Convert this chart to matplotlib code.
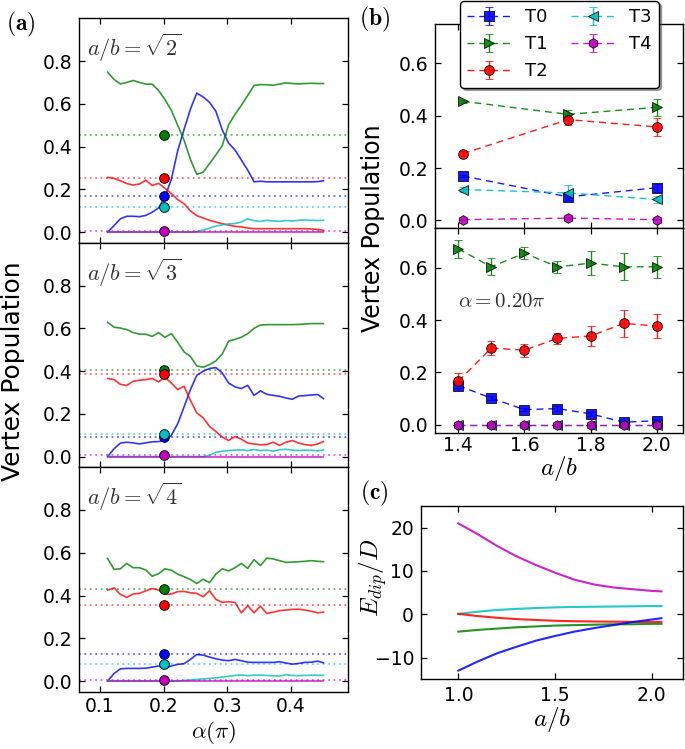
import matplotlib
matplotlib.use("Agg")
import matplotlib.pyplot as plt
import numpy as np

plt.rcParams.update({
    "font.family": ["DejaVu Sans"],
    "mathtext.fontset": "cm",
    "xtick.direction": "in",
    "ytick.direction": "in",
    "xtick.top": True,
    "ytick.right": True,
    "xtick.major.size": 4.5,
    "ytick.major.size": 4.5,
    "xtick.major.width": 0.9,
    "ytick.major.width": 0.9,
    "xtick.major.pad": 4.5,
    "ytick.major.pad": 5,
    "axes.linewidth": 1.0,
    "xtick.labelsize": 13.5,
    "ytick.labelsize": 13.5,
})

C0, C1, C2, C3, C4 = (0, 0, 1), (0, 0.5, 0), (1, 0, 0), (0, 0.75, 0.75), (0.75, 0, 0.75)
colors = [C0, C1, C2, C3, C4]
labels = ["T0", "T1", "T2", "T3", "T4"]

# ---------------- panel (a) data ----------------
alpha_pi = [0.112, 0.122, 0.132, 0.142, 0.152, 0.162, 0.172, 0.182, 0.192, 0.202,
            0.212, 0.222, 0.232, 0.242, 0.252, 0.262, 0.272, 0.282, 0.292, 0.302,
            0.312, 0.322, 0.332, 0.342, 0.352, 0.362, 0.372, 0.382, 0.392, 0.402,
            0.412, 0.422, 0.432, 0.442, 0.451]

# a/b = sqrt(2)
s2_T0 = [0.0, 0.03, 0.062, 0.074, 0.074, 0.072, 0.078, 0.093, 0.113, 0.165,
         0.246, 0.38, 0.48, 0.575, 0.650, 0.632, 0.607, 0.565, 0.478, 0.416,
         0.384, 0.337, 0.290, 0.235, 0.238, 0.235, 0.235, 0.235, 0.235, 0.235,
         0.235, 0.235, 0.235, 0.236, 0.240]
s2_T1 = [0.748, 0.714, 0.693, 0.700, 0.709, 0.700, 0.692, 0.692, 0.662, 0.620,
         0.570, 0.500, 0.430, 0.340, 0.270, 0.280, 0.320, 0.361, 0.404, 0.502,
         0.550, 0.593, 0.639, 0.686, 0.690, 0.689, 0.687, 0.692, 0.698, 0.695,
         0.693, 0.695, 0.696, 0.695, 0.695]
s2_T2 = [0.256, 0.251, 0.240, 0.227, 0.220, 0.225, 0.243, 0.218, 0.228, 0.205,
         0.180, 0.152, 0.133, 0.099, 0.077, 0.066, 0.055, 0.047, 0.039, 0.033,
         0.027, 0.024, 0.019, 0.016, 0.016, 0.016, 0.016, 0.016, 0.016, 0.016,
         0.016, 0.016, 0.015, 0.012, 0.008]
s2_T3 = [0.0, 0.0, 0.0, 0.0, 0.0, 0.0, 0.0, 0.0, 0.0, 0.0,
         0.0, 0.0, 0.0, 0.0, 0.002, 0.010, 0.018, 0.028, 0.034, 0.038,
         0.040, 0.047, 0.062, 0.053, 0.050, 0.055, 0.052, 0.050, 0.054, 0.052,
         0.055, 0.057, 0.055, 0.054, 0.055]
s2_T4 = [0.0] * 35

# a/b = sqrt(3)
s3_T0 = [0.0, 0.036, 0.063, 0.067, 0.064, 0.059, 0.064, 0.069, 0.070, 0.075,
         0.099, 0.153, 0.232, 0.313, 0.380, 0.399, 0.412, 0.416, 0.391, 0.344,
         0.326, 0.318, 0.333, 0.286, 0.307, 0.291, 0.286, 0.282, 0.274, 0.268,
         0.283, 0.285, 0.288, 0.290, 0.271]
s3_T1 = [0.628, 0.605, 0.601, 0.594, 0.580, 0.573, 0.572, 0.562, 0.580, 0.558,
         0.575, 0.535, 0.490, 0.468, 0.424, 0.418, 0.430, 0.447, 0.480, 0.540,
         0.548, 0.558, 0.575, 0.600, 0.615, 0.617, 0.617, 0.617, 0.617, 0.617,
         0.618, 0.620, 0.622, 0.622, 0.622]
s3_T2 = [0.365, 0.360, 0.338, 0.332, 0.352, 0.357, 0.360, 0.365, 0.349, 0.370,
         0.344, 0.313, 0.329, 0.263, 0.204, 0.182, 0.141, 0.117, 0.091, 0.075,
         0.094, 0.081, 0.063, 0.059, 0.055, 0.056, 0.067, 0.052, 0.067, 0.075,
         0.063, 0.056, 0.052, 0.059, 0.070]
s3_T3 = [0.0, 0.0, 0.0, 0.0, 0.0, 0.0, 0.0, 0.0, 0.0, 0.0,
         0.0, 0.0, 0.0, 0.0, 0.0, 0.0, 0.006, 0.020, 0.025, 0.028,
         0.030, 0.031, 0.028, 0.033, 0.028, 0.030, 0.025, 0.032, 0.034, 0.030,
         0.028, 0.030, 0.029, 0.027, 0.031]
s3_T4 = [0.0] * 35

# a/b = sqrt(4)
s4_T0 = [0.0, 0.035, 0.057, 0.059, 0.059, 0.059, 0.060, 0.065, 0.070, 0.060,
         0.070, 0.078, 0.081, 0.101, 0.124, 0.121, 0.112, 0.104, 0.098, 0.095,
         0.101, 0.095, 0.088, 0.087, 0.087, 0.087, 0.087, 0.090, 0.084, 0.079,
         0.082, 0.087, 0.088, 0.093, 0.085]
s4_T1 = [0.573, 0.522, 0.525, 0.550, 0.530, 0.530, 0.519, 0.490, 0.502, 0.525,
         0.518, 0.500, 0.488, 0.475, 0.456, 0.476, 0.460, 0.500, 0.525, 0.515,
         0.530, 0.550, 0.527, 0.568, 0.540, 0.575, 0.571, 0.563, 0.555, 0.556,
         0.558, 0.560, 0.563, 0.560, 0.558]
s4_T2 = [0.425, 0.436, 0.405, 0.391, 0.407, 0.410, 0.422, 0.433, 0.425, 0.405,
         0.407, 0.418, 0.419, 0.413, 0.410, 0.394, 0.422, 0.382, 0.368, 0.371,
         0.368, 0.319, 0.352, 0.319, 0.350, 0.316, 0.322, 0.329, 0.332, 0.335,
         0.336, 0.332, 0.326, 0.319, 0.322]
s4_T3 = [0.0, 0.0, 0.0, 0.0, 0.0, 0.0, 0.0, 0.0, 0.0, 0.0,
         0.0, 0.0, 0.003, 0.005, 0.007, 0.010, 0.012, 0.015, 0.018, 0.022,
         0.026, 0.028, 0.025, 0.027, 0.028, 0.026, 0.024, 0.023, 0.030, 0.026,
         0.025, 0.026, 0.027, 0.027, 0.027]
s4_T4 = [0.0] * 35

panel_a_titles = [r"$a/b=\sqrt{2}$", r"$a/b=\sqrt{3}$", r"$a/b=\sqrt{4}$"]

# ---------------- panel (b) data ----------------
ab_top = [1.414, 1.732, 2.0]
top_T0 = [0.170, 0.090, 0.125]
top_T1 = [0.455, 0.405, 0.432]
top_T2 = [0.255, 0.385, 0.357]
top_T3 = [0.118, 0.105, 0.080]
top_T4 = [0.003, 0.009, 0.003]
top_T0_err = [0.005, 0.012, 0.015]
top_T1_err = [0.005, 0.015, 0.032]
top_T2_err = [0.010, 0.020, 0.035]
top_T3_err = [0.010, 0.030, 0.015]
top_T4_err = [0.003, 0.005, 0.003]

ab_low = [1.4, 1.5, 1.6, 1.7, 1.8, 1.9, 2.0]
low_T0 = [0.150, 0.102, 0.058, 0.062, 0.042, 0.010, 0.016]
low_T1 = [0.672, 0.603, 0.655, 0.603, 0.617, 0.603, 0.603]
low_T2 = [0.166, 0.293, 0.285, 0.330, 0.339, 0.387, 0.377]
low_T3 = [0.0, 0.0, 0.0, 0.0, 0.0, 0.0, 0.0]
low_T4 = [0.0, 0.0, 0.0, 0.0, 0.0, 0.0, 0.0]
low_T0_err = [0.010, 0.008, 0.006, 0.008, 0.008, 0.006, 0.006]
low_T1_err = [0.035, 0.033, 0.022, 0.023, 0.046, 0.052, 0.043]
low_T2_err = [0.032, 0.028, 0.025, 0.020, 0.040, 0.050, 0.045]
low_T3_err = [0.003, 0.003, 0.003, 0.003, 0.003, 0.003, 0.003]
low_T4_err = [0.003, 0.003, 0.003, 0.003, 0.003, 0.003, 0.003]

# ---------------- panel (c) data ----------------
ab_c = [1.0, 1.1, 1.2, 1.3, 1.4, 1.5, 1.6, 1.7, 1.8, 1.9, 2.0, 2.05]
E_T0 = [-13.0, -10.9, -9.0, -7.5, -6.1, -5.0, -4.0, -3.2, -2.5, -1.8, -1.2, -0.9]
E_T1 = [-4.0, -3.6, -3.3, -3.0, -2.8, -2.6, -2.5, -2.4, -2.3, -2.3, -2.2, -2.2]
E_T2 = [0.1, -0.4, -0.8, -1.1, -1.3, -1.5, -1.6, -1.65, -1.7, -1.75, -1.75, -1.75]
E_T3 = [0.1, 0.6, 1.0, 1.25, 1.45, 1.6, 1.7, 1.75, 1.8, 1.85, 1.9, 1.9]
E_T4 = [21.0, 18.5, 15.8, 13.4, 11.4, 9.6, 8.0, 6.9, 6.2, 5.8, 5.4, 5.3]

# ---------------- figure ----------------
W, H = 685, 749
fig = plt.figure(figsize=(W / 100, H / 100), dpi=100)

def fx(px):
    return px / W

def fy(py):
    return 1 - py / H

# panel (a)
a_left, a_right = 79, 348.3
a_top, a_bot = 18.3, 691.7
ph = (a_bot - a_top) / 3
a_series = [
    [s2_T0, s2_T1, s2_T2, s2_T3, s2_T4],
    [s3_T0, s3_T1, s3_T2, s3_T3, s3_T4],
    [s4_T0, s4_T1, s4_T2, s4_T3, s4_T4],
]
dots = [
    [top_T0[0], top_T1[0], top_T2[0], top_T3[0], top_T4[0]],
    [top_T0[1], top_T1[1], top_T2[1], top_T3[1], top_T4[1]],
    [top_T0[2], top_T1[2], top_T2[2], top_T3[2], top_T4[2]],
]
axes_a = []
for i in range(3):
    t = a_top + i * ph
    ax = fig.add_axes([fx(a_left), fy(t + ph), fx(a_right - a_left), ph / H])
    for j in range(5):
        ax.axhline(dots[i][j], color=colors[j], ls=(0, (1, 2)), lw=1.3, alpha=0.6, zorder=1)
    for j in range(5):
        ax.plot(alpha_pi, a_series[i][j], color=colors[j], lw=1.2, alpha=0.8, zorder=2)
    for j in range(5):
        ax.plot([0.2], [dots[i][j]], "o", color=colors[j], mec="k", mew=0.6, ms=7, zorder=5)
    ax.set_xlim(0.067, 0.49)
    ax.set_ylim(-0.05, 1.0)
    ax.set_yticks([0.0, 0.2, 0.4, 0.6, 0.8])
    ax.set_xticks([0.1, 0.2, 0.3, 0.4])
    if i < 2:
        ax.set_xticklabels([])
    else:
        ax.tick_params(axis="x", pad=3.5)
    ax.text(0.03, 0.94, panel_a_titles[i], transform=ax.transAxes, fontsize=16,
            ha="left", va="top", color="#333333")
    axes_a.append(ax)

fig.text(fx(13), fy(371), "Vertex Population", rotation=90, fontsize=18,
         ha="center", va="center")
fig.text(fx(213.5), fy(732), r"$\alpha(\pi)$", fontsize=16.5, ha="center", va="center")
fig.text(fx(21), fy(24), r"$\mathbf{(a)}$", fontsize=17, ha="center", va="center")

# panel (b)
b_left, b_right = 435, 683.3
axb1 = fig.add_axes([fx(b_left), fy(228.3), fx(b_right - b_left), (228.3 - 24) / H])
axb2 = fig.add_axes([fx(b_left), fy(432.7), fx(b_right - b_left), (432.7 - 228.3) / H])
markers = ["s", ">", "o", "<", "h"]
top_vals = [top_T0, top_T1, top_T2, top_T3, top_T4]
top_errs = [top_T0_err, top_T1_err, top_T2_err, top_T3_err, top_T4_err]
low_vals = [low_T0, low_T1, low_T2, low_T3, low_T4]
low_errs = [low_T0_err, low_T1_err, low_T2_err, low_T3_err, low_T4_err]
handles = []
for j in range(5):
    h = axb1.errorbar(ab_top, top_vals[j], yerr=top_errs[j], fmt=markers[j], ls="--",
                      dashes=(5, 3.5), color=colors[j], mec="k", mew=0.6, ms=7,
                      capsize=3, elinewidth=1, lw=1, alpha=0.9, label=labels[j])
    handles.append(h)
    axb2.errorbar(ab_low, low_vals[j], yerr=low_errs[j], fmt=markers[j], ls="--",
                  dashes=(5, 3.5), color=colors[j], mec="k", mew=0.6, ms=7,
                  capsize=3, elinewidth=1, lw=1, alpha=0.9)
for ax in (axb1, axb2):
    ax.set_xlim(1.33, 2.08)
    ax.set_ylim(-0.03, 0.75)
    ax.set_yticks([0.0, 0.2, 0.4, 0.6])
    ax.set_xticks([1.4, 1.6, 1.8, 2.0])
axb1.set_xticklabels([])
axb2.tick_params(axis="x", pad=2.5)
axb2.text(fx(458), fy(301), r"$\alpha=0.20\pi$", transform=fig.transFigure,
          fontsize=15, ha="left", va="center", color="#333333")
fig.text(fx(373), fy(228), "Vertex Population", rotation=90, fontsize=17,
         ha="center", va="center")
fig.text(fx(559), fy(468), r"$a/b$", fontsize=18, ha="center", va="center")
fig.text(fx(375), fy(19), r"$\mathbf{(b)}$", fontsize=17, ha="center", va="center")

leg = axb1.legend(handles, labels, ncol=2, loc="upper left",
                  bbox_to_anchor=(fx(460), fy(1)), bbox_transform=fig.transFigure,
                  fontsize=13, numpoints=1, fancybox=True, shadow=True,
                  handlelength=2.4, borderaxespad=0, columnspacing=1.3,
                  labelspacing=0.5, framealpha=1, edgecolor="k")
leg.set_zorder(10)

# panel (c)
axc = fig.add_axes([fx(421), fy(679.3), fx(683.3 - 421), (679.3 - 506) / H])
E_vals = [E_T4, E_T3, E_T2, E_T1, E_T0]
E_cols = [C4, C3, C2, C1, C0]
for vals, col in zip(E_vals, E_cols):
    axc.plot(ab_c, vals, color=col, lw=1.5, alpha=0.85)
axc.set_xlim(0.807, 2.163)
axc.set_ylim(-15, 25)
axc.set_xticks([1.0, 1.5, 2.0])
axc.set_yticks([-10, 0, 10, 20])
fig.text(fx(373), fy(578), r"$E_{dip}/D$", rotation=90, fontsize=18,
         ha="center", va="center")
fig.text(fx(552), fy(719), r"$a/b$", fontsize=18, ha="center", va="center")
fig.text(fx(374.5), fy(493), r"$\mathbf{(c)}$", fontsize=17, ha="center", va="center")

fig.savefig("out.png", dpi=100)
